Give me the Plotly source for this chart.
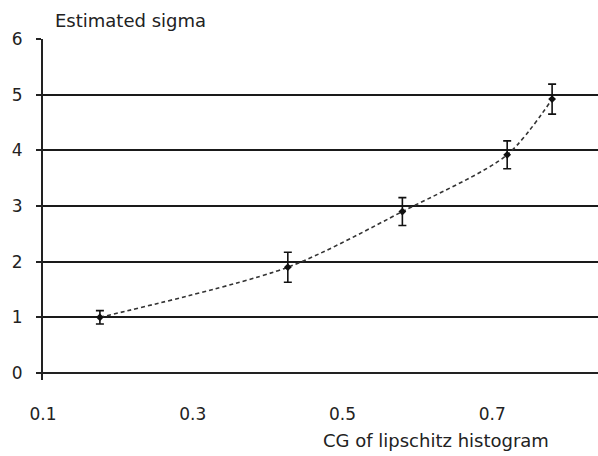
import plotly.graph_objects as go

cg = [0.176, 0.427, 0.58, 0.72, 0.78]
sigma = [1.0, 1.9, 2.9, 3.92, 4.92]
err = [0.12, 0.27, 0.25, 0.25, 0.27]

x_ticks = [0.1, 0.3, 0.5, 0.7]
y_ticks = [0, 1, 2, 3, 4, 5, 6]
grid_vals = [1, 2, 3, 4, 5]

FAM = "DejaVu Sans, Arial, sans-serif"
font = dict(family=FAM, size=17, color="#222")

fig = go.Figure()
fig.add_trace(go.Scatter(
    x=cg, y=sigma, mode="lines+markers",
    line=dict(color="#333", width=1.6, dash="4px,3px", shape="spline", smoothing=0.8),
    marker=dict(color="#111", size=6, symbol="diamond"),
    error_y=dict(type="data", array=err, color="#111", thickness=1.6, width=4),
    showlegend=False,
))

fig.update_layout(
    width=598, height=456,
    margin=dict(l=43, r=0, t=39, b=76),
    paper_bgcolor="white", plot_bgcolor="white",
    font=font,
    xaxis=dict(
        range=[0.1, 0.8413], tickvals=x_ticks, ticktext=[str(v) for v in x_ticks],
        showgrid=False, zeroline=False, showline=False,
        ticks="", ticklabelstandoff=22,
    ),
    yaxis=dict(
        range=[-0.126, 6], tickvals=y_ticks, ticktext=[str(v) for v in y_ticks],
        showgrid=False,
        zeroline=True, zerolinecolor="#222", zerolinewidth=2,
        showline=True, linecolor="#222", linewidth=2,
        ticks="outside", ticklen=5, tickwidth=1.5, tickcolor="#222",
        ticklabelstandoff=10,
        minor=dict(tickvals=grid_vals, showgrid=True, gridcolor="#1a1a1a", gridwidth=2, ticks=""),
    ),
    annotations=[
        dict(text="Estimated sigma", xref="paper", yref="paper", x=0.0175, y=1.0,
             xanchor="left", yanchor="bottom", yshift=6, showarrow=False,
             font=dict(family=FAM, size=18, color="#222")),
        dict(text="CG of lipschitz histogram", xref="paper", yref="paper", x=0.708, y=0,
             xanchor="center", yanchor="top", yshift=-48, showarrow=False,
             font=dict(family=FAM, size=18, color="#222")),
    ],
)

fig.write_html("out.html")
